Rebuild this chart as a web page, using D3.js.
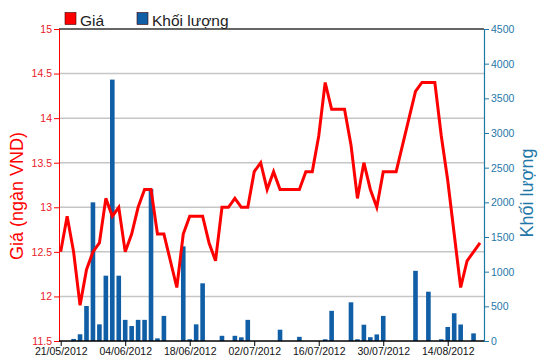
<!DOCTYPE html>
<html>
<head>
<meta charset="utf-8">
<script src="https://cdn.jsdelivr.net/npm/d3@7"></script>
<style>
  html, body { margin: 0; padding: 0; background: #fff; }
  svg { display: block; font-family: "Liberation Sans", Arial, sans-serif; }
</style>
</head>
<body>
<svg id="chart" width="550" height="364"></svg>
<script>
const dates = [
  "21/05/2012","22/05/2012","23/05/2012","24/05/2012","25/05/2012",
  "28/05/2012","29/05/2012","30/05/2012","31/05/2012","01/06/2012",
  "04/06/2012","05/06/2012","06/06/2012","07/06/2012","08/06/2012",
  "11/06/2012","12/06/2012","13/06/2012","14/06/2012","15/06/2012",
  "18/06/2012","19/06/2012","20/06/2012","21/06/2012","22/06/2012",
  "25/06/2012","26/06/2012","27/06/2012","28/06/2012","29/06/2012",
  "02/07/2012","03/07/2012","04/07/2012","05/07/2012","06/07/2012",
  "09/07/2012","10/07/2012","11/07/2012","12/07/2012","13/07/2012",
  "16/07/2012","17/07/2012","18/07/2012","19/07/2012","20/07/2012",
  "23/07/2012","24/07/2012","25/07/2012","26/07/2012","27/07/2012",
  "30/07/2012","31/07/2012","01/08/2012","02/08/2012","03/08/2012",
  "06/08/2012","07/08/2012","08/08/2012","09/08/2012","10/08/2012",
  "14/08/2012","15/08/2012","16/08/2012","17/08/2012","20/08/2012","21/08/2012"
];
const prices = [
  12.5, 12.9, 12.5, 11.9, 12.3, 12.5, 12.6, 13.1, 12.9, 13.0,
  12.5, 12.7, 13.0, 13.2, 13.2, 12.7, 12.7, 12.4, 12.1, 12.7,
  12.9, 12.9, 12.9, 12.6, 12.4, 13.0, 13.0, 13.1, 13.0, 13.0,
  13.4, 13.5, 13.2, 13.4, 13.2, 13.2, 13.2, 13.2, 13.4, 13.4,
  13.8, 14.4, 14.1, 14.1, 14.1, 13.7, 13.1, 13.5, 13.2, 13.0,
  13.4, 13.4, 13.4, 13.7, 14.0, 14.3, 14.4, 14.4, 14.4, 13.8,
  13.3, 12.7, 12.1, 12.4, 12.5, 12.6
];
const volumes = [
  0, 0, 30, 97, 505, 2000, 240, 942, 3770, 942,
  305, 216, 305, 305, 2190, 38, 362, 0, 0, 1365,
  25, 240, 832, 0, 0, 75, 0, 75, 53, 305,
  0, 0, 0, 0, 163, 0, 0, 60, 0, 0,
  0, 25, 435, 0, 0, 558, 25, 235, 55, 95,
  362, 0, 0, 0, 0, 1012, 0, 711, 0, 25,
  202, 400, 238, 0, 110, 0
];
const xTickLabels = ["21/05/2012","04/06/2012","18/06/2012","02/07/2012","16/07/2012","30/07/2012","14/08/2012"];
const priceTicks = [11.5, 12, 12.5, 13, 13.5, 14, 14.5, 15];
const volumeTicks = [0, 500, 1000, 1500, 2000, 2500, 3000, 3500, 4000, 4500];
const legendLabels = ["Giá", "Khối lượng"];
const leftTitle = "Giá (ngàn VND)";
const rightTitle = "Khối lượng";

const RED = "#ff0000";
const LABEL_RED = "#e8202a";
const BLUE = "#0f5ea6";
const AXIS_BLUE = "#1f78a8";

const svg = d3.select("#chart");
const plotL = 59, plotR = 484, plotT = 29, plotB = 341;

const x = d3.scalePoint().domain(dates).range([60.7, 480]);
const yP = d3.scaleLinear().domain([11.5, 15]).range([plotB, plotT]);
const yV = d3.scaleLinear().domain([0, 4500]).range([plotB, plotT]);

// gridlines
svg.append("g").selectAll("line")
  .data(priceTicks.filter(d => d > 11.5 && d < 15))
  .join("line")
  .attr("x1", plotL).attr("x2", plotR)
  .attr("y1", d => yP(d)).attr("y2", d => yP(d))
  .attr("stroke", "#c6c6c6").attr("stroke-width", 1.5);

// top border
svg.append("line").attr("x1", plotL).attr("x2", plotR)
  .attr("y1", plotT).attr("y2", plotT)
  .attr("stroke", "#333").attr("stroke-width", 1.5);

// volume bars
const bw = 4.6;
svg.append("g").selectAll("rect")
  .data(volumes.map((v, i) => ({d: dates[i], v})))
  .join("rect")
  .attr("x", d => x(d.d) - bw / 2)
  .attr("width", bw)
  .attr("y", d => yV(d.v))
  .attr("height", d => plotB - yV(d.v))
  .attr("fill", BLUE);

// price line
const line = d3.line().x((d, i) => x(dates[i])).y(d => yP(d));
svg.append("path").datum(prices)
  .attr("d", line)
  .attr("fill", "none")
  .attr("stroke", RED)
  .attr("stroke-width", 3)
  .attr("stroke-linejoin", "miter");

// left axis
const leftAxis = svg.append("g").attr("transform", `translate(${plotL},0)`)
  .call(d3.axisLeft(yP).tickValues(priceTicks).tickFormat(d => String(d)).tickSize(5).tickPadding(2));
leftAxis.select(".domain").attr("stroke", RED).attr("stroke-width", 1);
leftAxis.selectAll(".tick line").attr("stroke", RED);
leftAxis.selectAll(".tick text").attr("fill", LABEL_RED).style("font-size", "10.5px").style("font-family", "'Liberation Sans', Arial, sans-serif");

// right axis
const rightAxis = svg.append("g").attr("transform", `translate(${plotR},0)`)
  .call(d3.axisRight(yV).tickValues(volumeTicks).tickFormat(d => String(d)).tickSize(5).tickPadding(2));
rightAxis.select(".domain").attr("stroke", AXIS_BLUE).attr("stroke-width", 1.2);
rightAxis.selectAll(".tick line").attr("stroke", AXIS_BLUE);
rightAxis.selectAll(".tick text").attr("fill", AXIS_BLUE).style("font-size", "10.5px").style("font-family", "'Liberation Sans', Arial, sans-serif");

// bottom axis
const bottomAxis = svg.append("g").attr("transform", `translate(0,${plotB})`)
  .call(d3.axisBottom(x).tickValues(xTickLabels).tickSize(5).tickPadding(2));
bottomAxis.select(".domain").attr("d", `M${plotL},0H${plotR}`).attr("stroke", "#000").attr("stroke-width", 1.3);
bottomAxis.selectAll(".tick line").attr("stroke", "#000");
bottomAxis.selectAll(".tick text").attr("fill", "#111").style("font-size", "10.5px").style("font-family", "'Liberation Sans', Arial, sans-serif");

// axis titles
svg.append("text")
  .attr("transform", "translate(23,196) rotate(-90)")
  .attr("text-anchor", "middle")
  .attr("fill", RED)
  .style("font-size", "18px")
  .text(leftTitle);
svg.append("text")
  .attr("transform", "translate(533,193) rotate(-90)")
  .attr("text-anchor", "middle")
  .attr("fill", AXIS_BLUE)
  .style("font-size", "18px")
  .text(rightTitle);

// legend
const legendColors = [RED, BLUE];
const legendX = [65, 137];
const lg = svg.append("g");
legendLabels.forEach((lab, i) => {
  lg.append("rect").attr("x", legendX[i]).attr("y", 12.5).attr("width", 11).attr("height", 12)
    .attr("fill", legendColors[i]).attr("stroke", "#400").attr("stroke-width", 0.6);
  lg.append("text").attr("x", legendX[i] + 15).attr("y", 25.5)
    .attr("fill", "#222").style("font-size", "15.5px").text(lab);
});
</script>
</body>
</html>
